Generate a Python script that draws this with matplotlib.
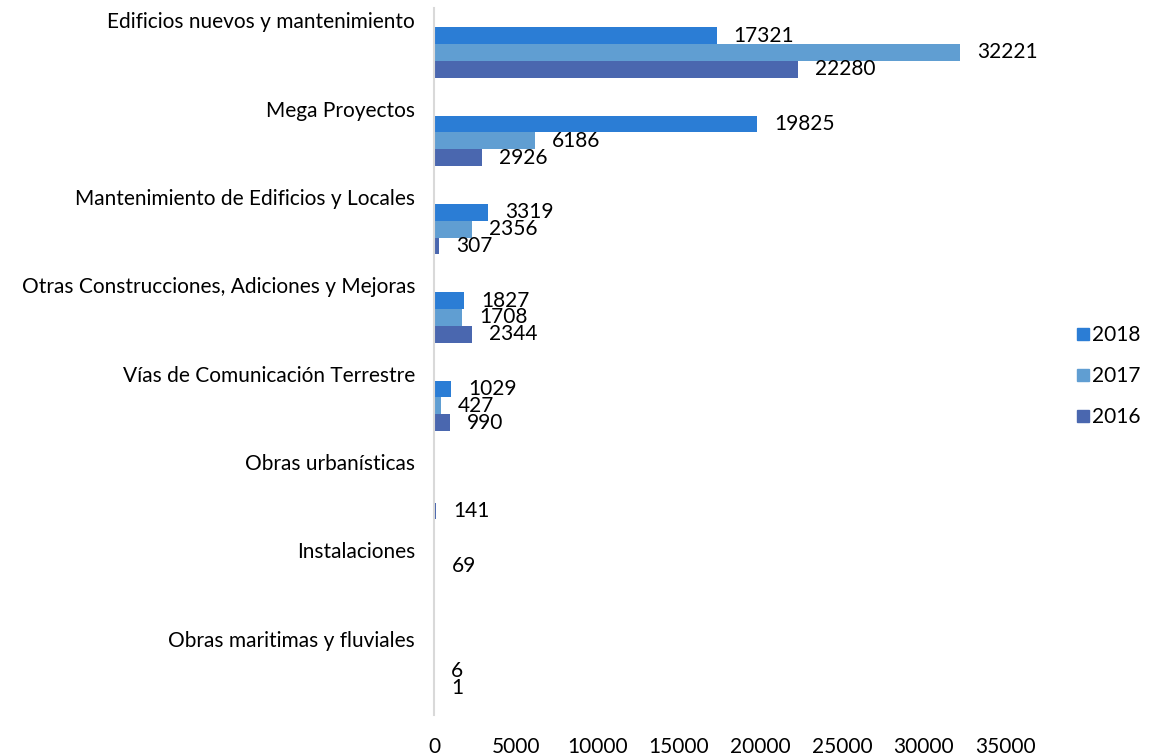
import numpy as np
import matplotlib.pyplot as plt
from matplotlib.lines import Line2D
from matplotlib.transforms import blended_transform_factory

categories = ['Edificios nuevos y mantenimiento', 'Mega Proyectos',
              'Mantenimiento de Edificios y Locales',
              'Otras Construcciones, Adiciones y Mejoras',
              'Vías de Comunicación Terrestre', 'Obras urbanísticas',
              'Instalaciones', 'Obras maritimas y fluviales']
v2018 = [17321, 19825, 3319, 1827, 1029, 0, 69, 0]
v2017 = [32221, 6186, 2356, 1708, 427, 0, 0, 6]
v2016 = [22280, 2926, 307, 2344, 990, 141, 0, 1]
years = ['2018', '2017', '2016']
colors = ['#2B7DD5', '#609ED2', '#4A67AF']
xticks = [0, 5000, 10000, 15000, 20000, 25000, 30000, 35000]

plt.rcParams['font.family'] = ['Lato', 'DejaVu Sans']
fs = 15

fig = plt.figure(figsize=(11.64, 7.55), dpi=100)
ax = fig.add_axes([0.3729, 0.053, 0.4905, 0.936])

y = np.arange(len(categories))
h = 0.19
series = [v2018, v2017, v2016]
offsets = [-h, 0, h]
for vals, off, c in zip(series, offsets, colors):
    ax.barh(y + off, vals, height=h, color=c, edgecolor='none')
    for yi, v in zip(y, vals):
        if v > 0:
            ax.annotate(str(v), xy=(v, yi + off), xytext=(17, 0),
                        textcoords='offset pixels', va='center', ha='left',
                        fontsize=fs)

# category names sit above each bar group
trans = blended_transform_factory(ax.transAxes, ax.transData)
for yi, name in zip(y, categories):
    ax.annotate(name, xy=(0, yi - 0.34), xycoords=trans, xytext=(-19, 0),
                textcoords='offset pixels', ha='right', va='center', fontsize=fs)

ax.set_xlim(0, 35000)
ax.set_ylim(len(categories) - 0.5, -0.5)
ax.set_xticks(xticks)
ax.set_xticklabels([str(t) for t in xticks], fontsize=fs)
ax.set_yticks([])
ax.tick_params(axis='x', length=0, pad=16)
for s in ['top', 'right', 'bottom']:
    ax.spines[s].set_visible(False)
ax.spines['left'].set_color('#D9D9D9')
ax.spines['left'].set_linewidth(1.5)

handles = [Line2D([], [], marker='s', linestyle='none', markersize=8,
                  markerfacecolor=c, markeredgecolor=c) for c in colors]
fig.legend(handles, years, loc='center left',
           bbox_to_anchor=(1064 / 1164, 1 - 376 / 755), frameon=False,
           fontsize=fs, labelspacing=1.0, handletextpad=0.05,
           handlelength=0.8, borderpad=0)

fig.savefig('out.png', dpi=100)
